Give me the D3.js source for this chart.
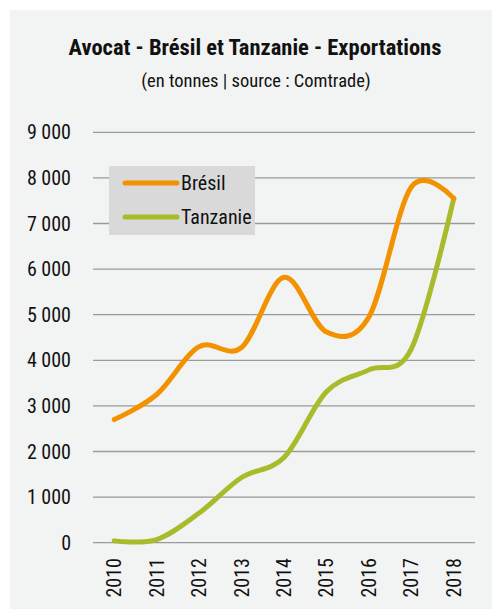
<!DOCTYPE html>
<html>
<head>
<meta charset="utf-8">
<script src="https://cdn.jsdelivr.net/npm/d3@7"></script>
<style>
  body { margin: 0; background: #fff; }
  text { font-family: "Liberation Sans Narrow", "Roboto Condensed", "DejaVu Sans Condensed", sans-serif; fill: #111; }
</style>
</head>
<body>
<div id="main"></div>
<script>
const width = 492;
const height = 609;

const years = ["2010", "2011", "2012", "2013", "2014", "2015", "2016", "2017", "2018"];
const bresil = [2700, 3250, 4300, 4280, 5820, 4620, 4950, 7800, 7550];
const tanzanie = [40, 70, 650, 1430, 1870, 3310, 3790, 4250, 7550];
const yTicks = [0, 1000, 2000, 3000, 4000, 5000, 6000, 7000, 8000, 9000];
const seriesNames = ["Brésil", "Tanzanie"];
const seriesColors = ["#f39200", "#a9bb2b"];

const svg = d3.select("#main").append("svg")
  .attr("width", width)
  .attr("height", height);

// panel background
svg.append("rect")
  .attr("x", 10).attr("y", 10)
  .attr("width", width - 10).attr("height", height - 10)
  .attr("fill", "#f2f3f3");

svg.append("text")
  .attr("x", 255).attr("y", 55)
  .attr("text-anchor", "middle")
  .style("font-size", "22.5px")
  .style("font-weight", "bold")
  .text("Avocat - Brésil et Tanzanie - Exportations");

svg.append("text")
  .attr("x", 256).attr("y", 87)
  .attr("text-anchor", "middle")
  .style("font-size", "18.5px")
  .text("(en tonnes | source : Comtrade)");

const x = d3.scalePoint().domain(years).range([93, 475]).padding(0.5);
const y = d3.scaleLinear().domain([0, 9000]).range([542.7, 132.3]);

const fmt = d => d3.format(",")(d).replace(",", " ");

// grid lines
svg.append("g")
  .selectAll("line")
  .data(yTicks)
  .join("line")
  .attr("x1", 93).attr("x2", 475)
  .attr("y1", d => y(d)).attr("y2", d => y(d))
  .attr("stroke", "#9a9a9a")
  .attr("stroke-width", 1.3);

// y axis labels
svg.append("g")
  .selectAll("text")
  .data(yTicks)
  .join("text")
  .attr("x", 71)
  .attr("y", d => y(d) + 7)
  .attr("text-anchor", "end")
  .style("font-size", "20px")
  .text(d => fmt(d));

// x axis labels
svg.append("g")
  .selectAll("text")
  .data(years)
  .join("text")
  .attr("transform", d => `translate(${x(d) + 7},558) rotate(-90)`)
  .attr("text-anchor", "end")
  .style("font-size", "20px")
  .text(d => d);

const line = d3.line()
  .x((d, i) => x(years[i]))
  .y(d => y(d))
  .curve(d3.curveCatmullRom.alpha(0));

[tanzanie, bresil].forEach((s, k) => {
  svg.append("path")
    .attr("d", line(s))
    .attr("fill", "none")
    .attr("stroke", k === 0 ? seriesColors[1] : seriesColors[0])
    .attr("stroke-width", 5)
    .attr("stroke-linecap", "round");
});

// legend
const legend = svg.append("g");
legend.append("rect")
  .attr("x", 109).attr("y", 166)
  .attr("width", 146).attr("height", 69)
  .attr("fill", "#d9d9d9");

seriesNames.forEach((name, i) => {
  const ly = 183 + i * 34;
  legend.append("line")
    .attr("x1", 125).attr("x2", 177)
    .attr("y1", ly).attr("y2", ly)
    .attr("stroke", seriesColors[i])
    .attr("stroke-width", 5)
    .attr("stroke-linecap", "round");
  legend.append("text")
    .attr("x", 181).attr("y", ly + 7)
    .style("font-size", "20px")
    .text(name);
});
</script>
</body>
</html>
